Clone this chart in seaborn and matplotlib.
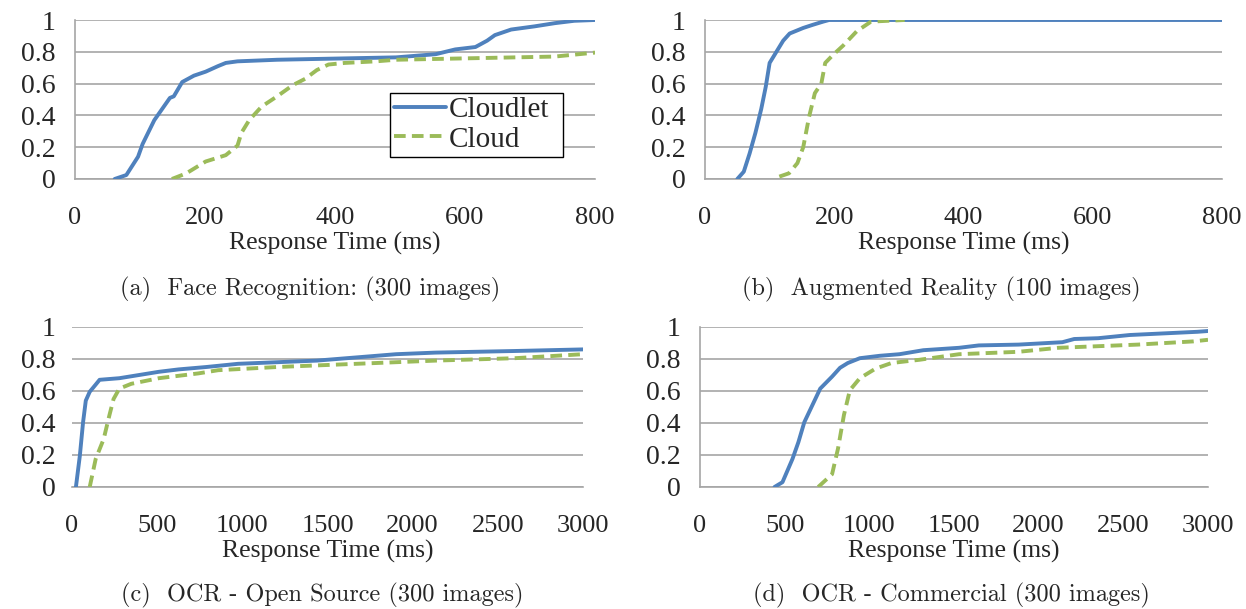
import matplotlib
matplotlib.use("Agg")
import matplotlib.pyplot as plt
import seaborn as sns
import pandas as pd

# CDF points: response time (ms) and cumulative fraction
face_cloudlet_ms = [61, 79, 97, 104, 122, 134, 146, 152, 165, 183, 201, 220, 232, 250, 311, 433, 494, 555, 585, 616, 634, 646, 671, 707, 738, 768, 800]
face_cloudlet_p = [0, 0.025, 0.14, 0.22, 0.37, 0.44, 0.51, 0.52, 0.61, 0.65, 0.675, 0.71, 0.73, 0.74, 0.75, 0.76, 0.765, 0.785, 0.815, 0.83, 0.87, 0.905, 0.94, 0.96, 0.98, 0.995, 1.0]
face_cloud_ms = [149, 171, 201, 232, 250, 256, 268, 287, 311, 335, 354, 372, 390, 415, 463, 494, 616, 738, 800]
face_cloud_p = [0, 0.035, 0.11, 0.15, 0.21, 0.29, 0.37, 0.455, 0.52, 0.59, 0.63, 0.685, 0.72, 0.73, 0.74, 0.75, 0.76, 0.77, 0.795]

ar_cloudlet_ms = [50, 60, 69, 78, 87, 94, 100, 112, 121, 131, 152, 167, 183, 192, 800]
ar_cloudlet_p = [0, 0.046, 0.16, 0.29, 0.44, 0.58, 0.73, 0.81, 0.87, 0.915, 0.95, 0.97, 0.99, 1.0, 1.0]
ar_cloud_ms = [115, 130, 143, 152, 161, 170, 180, 186, 198, 214, 235, 257, 309]
ar_cloud_p = [0.015, 0.036, 0.1, 0.2, 0.39, 0.54, 0.6, 0.73, 0.78, 0.84, 0.93, 0.99, 1.0]

ocr_os_cloudlet_ms = [23, 46, 65, 81, 104, 139, 162, 278, 394, 510, 626, 789, 975, 1206, 1438, 1671, 1903, 2135, 2599, 3000]
ocr_os_cloudlet_p = [0, 0.195, 0.405, 0.54, 0.595, 0.64, 0.67, 0.68, 0.70, 0.72, 0.735, 0.75, 0.77, 0.78, 0.79, 0.81, 0.83, 0.84, 0.85, 0.86]
ocr_os_cloud_ms = [104, 139, 186, 220, 244, 278, 348, 510, 742, 858, 1206, 1671, 2135, 2599, 3000]
ocr_os_cloud_p = [0, 0.175, 0.3, 0.45, 0.55, 0.615, 0.645, 0.68, 0.71, 0.73, 0.75, 0.77, 0.79, 0.805, 0.83]

ocr_com_cloudlet_ms = [440, 487, 546, 581, 616, 663, 710, 780, 827, 873, 944, 1061, 1178, 1319, 1530, 1647, 1881, 2140, 2210, 2351, 2538, 2937, 3000]
ocr_com_cloudlet_p = [0, 0.03, 0.175, 0.28, 0.405, 0.51, 0.615, 0.69, 0.745, 0.775, 0.805, 0.82, 0.83, 0.855, 0.87, 0.885, 0.89, 0.905, 0.925, 0.93, 0.95, 0.97, 0.975]
ocr_com_cloud_ms = [698, 780, 815, 850, 885, 944, 1037, 1131, 1295, 1530, 1881, 2116, 2585, 2913, 3000]
ocr_com_cloud_p = [0, 0.08, 0.24, 0.45, 0.605, 0.68, 0.74, 0.775, 0.795, 0.83, 0.845, 0.87, 0.89, 0.91, 0.92]

captions = ["(a)  Face Recognition: (300 images)", "(b)  Augmented Reality (100 images)",
            "(c)  OCR - Open Source (300 images)", "(d)  OCR - Commercial (300 images)"]

sns.set_style("white")
plt.rcParams['font.family'] = ['Liberation Serif', 'DejaVu Serif']

blue = "#4f81bd"
green = "#9bbb59"
grid = "#a6a6a6"

fig = plt.figure(figsize=(12.46, 6.09), dpi=100)
W, H = 1246, 609
# axes boxes in pixels: left, top, right, bottom
boxes = [(75, 20, 595, 179), (705, 20, 1222, 179), (72, 327, 583, 487), (700, 327, 1208, 487)]
panels = [
    (face_cloudlet_ms, face_cloudlet_p, face_cloud_ms, face_cloud_p, 800, 200),
    (ar_cloudlet_ms, ar_cloudlet_p, ar_cloud_ms, ar_cloud_p, 800, 200),
    (ocr_os_cloudlet_ms, ocr_os_cloudlet_p, ocr_os_cloud_ms, ocr_os_cloud_p, 3000, 500),
    (ocr_com_cloudlet_ms, ocr_com_cloudlet_p, ocr_com_cloud_ms, ocr_com_cloud_p, 3000, 500),
]
cap_x = [310, 941, 322, 951]
cap_y = [289, 289, 595, 595]

for i, (box, pan) in enumerate(zip(boxes, panels)):
    l, t, r, b = box
    ax = fig.add_axes([l / W, 1 - b / H, (r - l) / W, (b - t) / H])
    x1, y1, x2, y2, xmax, step = pan
    d1 = pd.DataFrame({"ms": x1, "p": y1})
    d2 = pd.DataFrame({"ms": x2, "p": y2})
    sns.lineplot(data=d1, x="ms", y="p", ax=ax, color=blue, lw=2.8, estimator=None, sort=False,
                 label="Cloudlet", zorder=3)
    sns.lineplot(data=d2, x="ms", y="p", ax=ax, color=green, lw=2.8, estimator=None, sort=False,
                 label="Cloud", zorder=4, linestyle=(0, (3, 1.6)))
    ax.set_xlim(0, xmax)
    ax.set_ylim(0, 1)
    ax.set_xticks(range(0, xmax + 1, step))
    ax.set_yticks([0, 0.2, 0.4, 0.6, 0.8, 1])
    ax.set_yticklabels(["0", "0.2", "0.4", "0.6", "0.8", "1"])
    ax.yaxis.grid(True, color=grid, lw=1.2)
    ax.set_axisbelow(True)
    for s in ["top", "right"]:
        ax.spines[s].set_visible(False)
    for s in ["left", "bottom"]:
        ax.spines[s].set_color(grid)
        ax.spines[s].set_linewidth(1.2)
    ylen = 8
    if i == 2:
        # open-source OCR panel has no vertical axis line
        ax.spines["left"].set_visible(False)
        ylen = 0
    ax.tick_params(axis="x", direction="out", length=7, width=1.2, color=grid, labelsize=19, pad=13)
    ax.tick_params(axis="y", direction="out", length=ylen, width=1.2, color=grid, labelsize=20,
                   pad=6 + (8 - ylen) * 0.72)
    ax.set_ylabel("")
    ax.set_xlabel("Response Time (ms)", fontsize=18.5, labelpad=2.5)
    if i == 0:
        leg = ax.legend(loc="lower left", bbox_to_anchor=(0.606, 0.138, 0.332, 0.43), mode="expand",
                        fontsize=21, frameon=True, fancybox=False, handlelength=1.75,
                        handletextpad=0.1, borderpad=0.15, labelspacing=0.1, borderaxespad=0)
        leg.get_frame().set_edgecolor("black")
        leg.get_frame().set_linewidth(1.0)
        leg.get_frame().set_alpha(1)
    else:
        ax.get_legend().remove()
    fig.text(cap_x[i] / W, 1 - cap_y[i] / H, captions[i], ha="center", va="center",
             fontsize=17.5, family=["cmr10", "DejaVu Serif"])

fig.savefig("out.png", dpi=100)
